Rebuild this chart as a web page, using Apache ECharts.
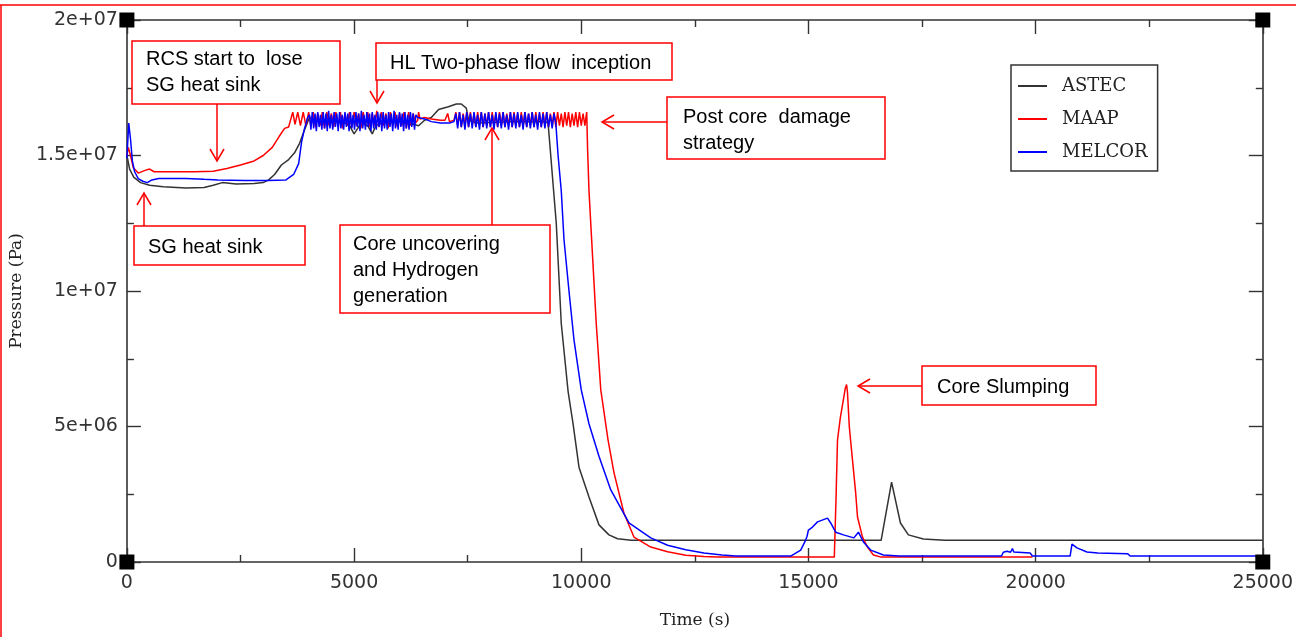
<!DOCTYPE html>
<html><head><meta charset="utf-8">
<script src="https://cdn.jsdelivr.net/npm/echarts@6/dist/echarts.min.js"></script>
<style>html,body{margin:0;padding:0;background:#fff}#c{width:1296px;height:637px}</style>
</head><body><div id="c"></div>
<script>
// ---- data (time s, pressure MPa) ----
const seriesNames = ['ASTEC', 'MAAP', 'MELCOR'];
const yTickLabels = ['0', '5e+06', '1e+07', '1.5e+07', '2e+07'];
const xTickLabels = ['0', '5000', '10000', '15000', '20000', '25000'];

const astec = [[0,15.0],[60,14.5],[150,14.2],[300,14.0],[500,13.9],[800,13.85],[1300,13.8],[1700,13.82],[1900,13.9],[2100,14.0],[2400,13.95],[2800,13.97],[3000,14.0],[3120,14.1],[3250,14.3],[3400,14.65],[3560,14.85],[3690,15.1],[3800,15.45],[3910,15.95],[4020,16.4],[4200,16.3],[4500,16.25],[4800,16.2],[4900,16.1],[5000,15.8],[5080,16.0],[5150,16.2],[5300,16.1],[5400,15.8],[5480,16.1],[5600,16.2],[6000,16.25],[6300,16.15],[6420,16.1],[6550,16.3],[6700,16.4],[6860,16.7],[7075,16.8],[7250,16.9],[7360,16.9],[7470,16.75],[7520,16.3],[7700,16.2],[8500,16.25],[9200,16.25],[9270,16.2],[9450,12.5],[9560,8.8],[9710,6.3],[9820,5.1],[9950,3.5],[10170,2.4],[10390,1.37],[10610,1.0],[10800,0.86],[11100,0.8],[16600,0.8],[16830,2.95],[17025,1.44],[17200,1.0],[17530,0.85],[18000,0.8],[25000,0.8]];

const maapStart = [[0,15.0],[30,15.3],[80,15.0],[140,14.55],[250,14.35],[400,14.45],[500,14.5],[600,14.4],[1000,14.4],[1500,14.4],[1900,14.42],[2200,14.52],[2500,14.65],[2800,14.8],[3000,15.0],[3200,15.3],[3350,15.7],[3470,16.0],[3560,16.05],[3650,16.6],[3700,16.15],[3760,16.6],[3820,16.1],[3880,16.6],[3940,16.1],[4000,16.6]];
const maapOscA = [[4050,16.1],[4100,16.6],[4150,16.05],[4200,16.55],[4250,16.1],[4300,16.6],[4350,16.0],[4400,16.6],[4450,16.1],[4500,16.55],[4550,16.05],[4600,16.6],[4650,16.1],[4700,16.6],[4750,16.0],[4800,16.55],[4850,16.1],[4900,16.6],[4950,16.05],[5000,16.6],[5050,16.1],[5100,16.55],[5150,16.0],[5200,16.6],[5250,16.1],[5300,16.6],[5350,16.05],[5400,16.55],[5450,16.1],[5500,16.65],[5550,16.05],[5600,16.6],[5650,16.1],[5700,16.55],[5750,16.0],[5800,16.6],[5850,16.1],[5900,16.6],[5950,16.05],[6000,16.55],[6050,16.1],[6100,16.6],[6150,16.0],[6200,16.6],[6250,16.1],[6300,16.55],[6350,16.2]];
const maapCalm = [[6400,16.3],[6420,16.6],[6450,16.35],[6550,16.4],[6700,16.35],[6900,16.3],[7000,16.3],[7060,16.55],[7100,16.25],[7200,16.3]];
const maapOscB = [[7240,16.6],[7280,16.1],[7320,16.6],[7360,16.05],[7400,16.55],[7440,16.1],[7480,16.6],[7520,16.05],[7560,16.6],[7600,16.1],[7640,16.55],[7680,16.05],[7720,16.6],[7760,16.1],[7800,16.6],[7840,16.05],[7880,16.55],[7920,16.1],[7960,16.6],[8000,16.05],[8040,16.6],[8080,16.1],[8120,16.55],[8160,16.05],[8200,16.6],[8240,16.1],[8280,16.6],[8320,16.05],[8360,16.55],[8400,16.1],[8440,16.6],[8480,16.05],[8520,16.6],[8560,16.1],[8600,16.55],[8640,16.05],[8680,16.6],[8720,16.1],[8760,16.6],[8800,16.05],[8840,16.55],[8880,16.1],[8920,16.6],[8960,16.05],[9000,16.6],[9040,16.1],[9080,16.55],[9120,16.05],[9160,16.6],[9200,16.1],[9240,16.6],[9280,16.05],[9320,16.55],[9360,16.1],[9400,16.6],[9440,16.05],[9480,16.6],[9520,16.1],[9560,16.55],[9600,16.05],[9640,16.6],[9680,16.1],[9720,16.6],[9760,16.05],[9800,16.55],[9840,16.1],[9880,16.6],[9920,16.05],[9960,16.6],[10000,16.1],[10040,16.55],[10080,16.1],[10120,16.6]];
const maapEnd = [[10140,15.2],[10170,13.7],[10250,11.25],[10330,8.8],[10430,6.35],[10590,4.5],[10720,3.3],[10940,1.8],[11160,0.92],[11530,0.55],[11900,0.38],[12300,0.25],[12700,0.2],[13000,0.18],[15570,0.18],[15610,2.5],[15640,4.5],[15700,5.3],[15760,5.9],[15810,6.4],[15840,6.55],[15860,6.24],[15900,4.98],[15970,3.76],[16040,2.55],[16080,1.66],[16190,0.92],[16300,0.55],[16430,0.26],[16600,0.18],[19930,0.18]];

const melcorStart = [[0,14.9],[40,16.2],[80,15.6],[120,14.8],[170,14.4],[250,14.15],[350,14.05],[450,14.0],[550,14.1],[700,14.15],[1000,14.15],[1300,14.15],[1700,14.12],[2000,14.1],[2600,14.08],[3100,14.08],[3500,14.1],[3670,14.3],[3780,14.7],[3845,15.5],[3910,16.0],[3980,16.4]];
const melcorOscA = [[4020,16.5],[4050,15.95],[4080,16.6],[4110,16.0],[4140,16.55],[4170,15.9],[4200,16.6],[4230,16.05],[4260,16.5],[4290,15.95],[4320,16.6],[4350,16.0],[4380,16.55],[4410,15.9],[4440,16.65],[4470,16.0],[4500,16.5],[4530,15.95],[4560,16.6],[4590,16.05],[4620,16.55],[4650,15.9],[4680,16.6],[4710,16.0],[4740,16.5],[4770,15.95],[4800,16.6],[4830,16.05],[4860,16.55],[4890,15.9],[4920,16.6],[4950,16.0],[4980,16.5],[5010,15.95],[5040,16.6],[5070,16.05],[5100,16.55],[5130,15.9],[5160,16.65],[5190,16.0],[5220,16.5],[5250,15.95],[5280,16.6],[5310,16.05],[5340,16.55],[5370,15.9],[5400,16.6],[5430,16.0],[5460,16.5],[5490,15.95],[5520,16.6],[5550,16.05],[5580,16.55],[5610,15.9],[5640,16.6],[5670,16.0],[5700,16.5],[5730,15.95],[5760,16.6],[5790,16.05],[5820,16.55],[5850,15.9],[5880,16.65],[5910,16.0],[5940,16.5],[5970,15.95],[6000,16.6],[6030,16.05],[6060,16.55],[6090,15.9],[6120,16.6],[6150,16.0],[6180,16.5],[6210,15.95],[6240,16.6],[6270,16.05],[6300,16.55],[6330,15.95],[6360,16.5]];
const melcorCalm = [[6400,16.4],[6550,16.35],[6700,16.25],[6900,16.2],[7100,16.2],[7200,16.25]];
const melcorOscB = [[7240,16.55],[7280,16.0],[7320,16.6],[7360,16.05],[7400,16.5],[7440,15.95],[7480,16.6],[7520,16.05],[7560,16.55],[7600,16.0],[7640,16.6],[7680,16.05],[7720,16.5],[7760,15.95],[7800,16.6],[7840,16.05],[7880,16.55],[7920,16.0],[7960,16.6],[8000,16.05],[8040,16.5],[8080,15.95],[8120,16.6],[8160,16.05],[8200,16.55],[8240,16.0],[8280,16.6],[8320,16.05],[8360,16.5],[8400,15.95],[8440,16.6],[8480,16.05],[8520,16.55],[8560,16.0],[8600,16.6],[8640,16.05],[8680,16.5],[8720,15.95],[8760,16.6],[8800,16.05],[8840,16.55],[8880,16.0],[8920,16.6],[8960,16.05],[9000,16.5],[9040,15.95],[9080,16.6],[9120,16.05],[9160,16.55],[9200,16.0],[9240,16.6],[9280,16.05],[9320,16.5],[9360,16.0],[9400,16.55],[9440,16.2]];
const melcorEnd = [[9490,15.0],[9560,13.7],[9620,11.9],[9730,10.0],[9840,8.2],[10000,6.35],[10170,5.1],[10390,3.9],[10650,2.66],[11050,1.44],[11530,0.89],[11900,0.62],[12300,0.45],[12700,0.33],[13100,0.26],[13400,0.22],[14610,0.22],[14830,0.44],[14940,0.81],[14970,0.95],[15000,1.18],[15090,1.29],[15200,1.48],[15420,1.62],[15490,1.44],[15600,1.1],[15770,1.0],[16000,0.89],[16100,1.1],[16210,0.74],[16370,0.44],[16650,0.26],[17000,0.22],[19250,0.22],[19290,0.36],[19370,0.4],[19450,0.36],[19490,0.5],[19520,0.37],[19880,0.33],[19930,0.22],[20760,0.22],[20800,0.66],[20910,0.52],[21130,0.37],[21370,0.33],[22030,0.3],[22080,0.22],[25000,0.22]];

const corners = [[0,0],[25000,0],[0,20],[25000,20]];

// ---- build ----
const MPa = 1e6;
const toPa = arr => arr.map(d => [d[0], d[1] * MPa]);
const colors = { ASTEC: '#333333', MAAP: '#ff0000', MELCOR: '#0000ff' };
const dataMap = {
  ASTEC: toPa(astec),
  MAAP: toPa([].concat(maapStart, maapOscA, maapCalm, maapOscB, maapEnd)),
  MELCOR: toPa([].concat(melcorStart, melcorOscA, melcorCalm, melcorOscB, melcorEnd))
};

const axisColor = '#333';
const serif = '"DejaVu Serif", serif';
const sans = '"DejaVu Sans", sans-serif';
const baseAxis = {
  min: 0,
  axisLine: { show: true, onZero: false, lineStyle: { color: axisColor, width: 1.6 } },
  axisTick: { show: true, inside: true, length: 14, lineStyle: { color: axisColor, width: 1.4 } },
  minorTick: { show: true, splitNumber: 2, length: 7, lineStyle: { color: axisColor, width: 1.4 } },
  splitLine: { show: false }
};

const chart = echarts.init(document.getElementById('c'));
const option = {
  animation: false,
  backgroundColor: '#fff',
  grid: { left: 125, right: 33, top: 20, bottom: 75 },
  legend: {
    data: seriesNames,
    orient: 'vertical',
    left: 1011, top: 65,
    borderColor: '#333', borderWidth: 1.5,
    padding: [11, 10, 9, 7],
    itemGap: 13,
    itemWidth: 29, itemHeight: 2,
    icon: 'rect',
    textStyle: { fontFamily: serif, fontSize: 18, color: '#222', padding: [0, 0, 0, 10], lineHeight: 20 }
  },
  xAxis: [
    Object.assign({}, baseAxis, {
      type: 'value', max: 25000, interval: 5000, position: 'bottom',
      name: 'Time (s)', nameLocation: 'middle', nameGap: 50,
      nameTextStyle: { fontFamily: serif, fontSize: 17, color: '#222' },
      axisLabel: { margin: 12, fontFamily: sans, fontSize: 19, color: '#333',
        formatter: v => xTickLabels[Math.round(v / 5000)] }
    }),
    Object.assign({}, baseAxis, {
      type: 'value', max: 25000, interval: 5000, position: 'top', axisLabel: { show: false }
    })
  ],
  yAxis: [
    Object.assign({}, baseAxis, {
      type: 'value', max: 2e7, interval: 5e6, position: 'left',
      name: 'Pressure (Pa)', nameLocation: 'middle', nameGap: 97, nameRotate: 90,
      nameTextStyle: { fontFamily: serif, fontSize: 17, color: '#222' },
      axisLabel: { margin: 9, fontFamily: sans, fontSize: 19, color: '#333',
        formatter: v => yTickLabels[Math.round(v / 5e6)] }
    }),
    Object.assign({}, baseAxis, {
      type: 'value', max: 2e7, interval: 5e6, position: 'right', axisLabel: { show: false }
    })
  ],
  series: seriesNames.map(n => ({
    name: n, type: 'line', data: dataMap[n], showSymbol: false, symbol: 'none',
    lineStyle: { color: colors[n], width: 1.5 }, itemStyle: { color: colors[n] },
    silent: true, z: n === 'MELCOR' ? 4 : 3
  })).concat([{
    name: 'corners', type: 'scatter', data: toPa(corners), symbol: 'rect', symbolSize: 15,
    itemStyle: { color: '#000', opacity: 1 }, clip: false, silent: true, z: 20, zlevel: 1
  }])
};
chart.setOption(option);

// ---- annotations (pixel layout) ----
const annFont = '20px "Liberation Sans", Arial, sans-serif';
const boxes = [
  { x: 132, y: 41, w: 208, h: 63, tx: 146, ty: 46, text: 'RCS start to  lose\nSG heat sink' },
  { x: 376, y: 43, w: 296, h: 37, tx: 390, ty: 50, text: 'HL Two-phase flow  inception' },
  { x: 667, y: 97, w: 218, h: 62, tx: 683, ty: 104, text: 'Post core  damage\nstrategy' },
  { x: 134, y: 226, w: 171, h: 39, tx: 148, ty: 234, text: 'SG heat sink' },
  { x: 340, y: 225, w: 210, h: 88, tx: 353, ty: 231, text: 'Core uncovering\nand Hydrogen\ngeneration' },
  { x: 922, y: 366, w: 174, h: 39, tx: 937, ty: 374, text: 'Core Slumping' }
];
const arrows = [
  { from: [217, 104], tip: [217, 161] },
  { from: [377, 80], tip: [377, 103] },
  { from: [667, 122], tip: [602, 122] },
  { from: [144, 226], tip: [144, 193] },
  { from: [492, 225], tip: [492, 128] },
  { from: [922, 386], tip: [858, 386] }
];
const g = [];
g.push({ type: 'line', shape: { x1: 0, y1: 5, x2: 1296, y2: 5 }, style: { stroke: '#ff0000', lineWidth: 1.5 }, z: 100 });
g.push({ type: 'line', shape: { x1: 1, y1: 5, x2: 1, y2: 637 }, style: { stroke: '#ff0000', lineWidth: 1.5 }, z: 100 });
boxes.forEach(b => {
  g.push({ type: 'rect', shape: { x: b.x, y: b.y, width: b.w, height: b.h }, style: { fill: '#fff', stroke: '#ff0000', lineWidth: 1.5 }, z: 100 });
  g.push({ type: 'text', x: b.tx, y: b.ty, style: { text: b.text, font: annFont, fill: '#000', lineHeight: 26, verticalAlign: 'top' }, z: 101 });
});
arrows.forEach(a => {
  const dx = a.tip[0] - a.from[0], dy = a.tip[1] - a.from[1];
  const L = Math.hypot(dx, dy), ux = dx / L, uy = dy / L;
  const back = 12, side = 7;
  const b1 = [a.tip[0] - ux * back - uy * side, a.tip[1] - uy * back + ux * side];
  const b2 = [a.tip[0] - ux * back + uy * side, a.tip[1] - uy * back - ux * side];
  g.push({ type: 'line', shape: { x1: a.from[0], y1: a.from[1], x2: a.tip[0], y2: a.tip[1] }, style: { stroke: '#ff0000', lineWidth: 1.5 }, z: 100 });
  g.push({ type: 'polyline', shape: { points: [b1, a.tip, b2] }, style: { stroke: '#ff0000', lineWidth: 1.5, fill: null }, z: 100 });
});
chart.setOption({ graphic: g });
</script>
</body></html>
